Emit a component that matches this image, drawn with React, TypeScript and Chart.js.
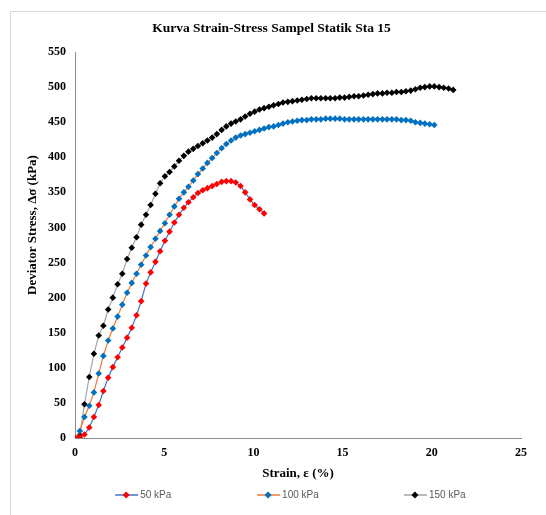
import React, { useEffect, useRef } from "react";
import { Chart, registerables } from "chart.js";

Chart.register(...registerables);

const TITLE = "Kurva Strain-Stress Sampel Statik Sta 15";
const X_TITLE = "Strain, ε (%)";
const Y_TITLE = "Deviator Stress, Δσ (kPa)";

const seriesLabels = ["50 kPa", "100 kPa", "150 kPa"];

// strain readings (%)
const strain = [
  0, 0.27, 0.53, 0.8, 1.06, 1.33, 1.59, 1.86, 2.12, 2.39, 2.65, 2.92, 3.18, 3.45, 3.71, 3.98,
  4.24, 4.51, 4.77, 5.04, 5.3, 5.57, 5.83, 6.1, 6.36, 6.63, 6.89, 7.16, 7.42, 7.69, 7.95, 8.22,
  8.48, 8.75, 9.01, 9.28, 9.54, 9.81, 10.07, 10.34, 10.6, 10.87, 11.13, 11.4, 11.66, 11.93,
  12.19, 12.46, 12.72, 12.99, 13.25, 13.52, 13.78, 14.05, 14.31, 14.58, 14.84, 15.11, 15.37,
  15.64, 15.9, 16.17, 16.43, 16.7, 16.96, 17.23, 17.49, 17.76, 18.02, 18.29, 18.55, 18.82,
  19.08, 19.35, 19.61, 19.88, 20.14, 20.41, 20.67, 20.94, 21.2,
];

// deviator stress (kPa)
const stress50 = [
  0, 1, 5, 15, 30, 47, 67, 86, 101, 115, 129, 143, 157, 175, 195, 220, 236, 251, 266, 281,
  294, 307, 318, 328, 336, 343, 349, 353, 356, 359, 362, 365, 366, 366, 364, 359, 350, 340,
  332, 326, 320,
];

const stress100 = [
  0, 10, 30, 46, 65, 92, 117, 139, 156, 173, 190, 207, 221, 234, 247, 260, 272, 284, 295, 306,
  318, 330, 341, 350, 358, 367, 376, 384, 392, 399, 406, 413, 419, 424, 428, 431, 433, 435,
  437, 439, 441, 443, 444, 446, 448, 450, 451, 452, 453, 453, 454, 454, 454, 455, 455, 455,
  455, 454, 454, 454, 454, 454, 454, 454, 454, 454, 454, 454, 454, 453, 453, 452, 450, 449,
  448, 447, 446,
];

const stress150 = [
  0, 4, 48, 87, 120, 146, 160, 183, 200, 219, 234, 255, 271, 286, 304, 318, 332, 348, 363, 373,
  379, 387, 395, 402, 408, 412, 416, 420, 424, 428, 433, 439, 444, 448, 451, 454, 458, 462,
  465, 468, 470, 472, 474, 476, 478, 479, 480, 481, 482, 483, 484, 484, 484, 484, 484, 484,
  485, 485, 486, 487, 487, 488, 489, 490, 491, 491, 492, 492, 493, 493, 494, 495, 497, 499,
  500, 501, 501, 500, 499, 498, 496,
];

const markerColors = ["#ff0000", "#0070c0", "#000000"];
const lineColors = ["#4472c4", "#ed7d31", "#a5a5a5"];

const serif = "'Liberation Serif', 'Times New Roman', serif";

function toPoints(ys: number[]) {
  return ys.map((y, i) => ({ x: strain[i], y }));
}

const yTitlePlugin = {
  id: "yTitle",
  afterDraw(chart: any) {
    const ctx = chart.ctx;
    const area = chart.chartArea;
    ctx.save();
    ctx.translate(33, (area.top + area.bottom) / 2 - 20);
    ctx.rotate(-Math.PI / 2);
    ctx.fillStyle = "#000000";
    ctx.font = `bold 13px ${serif}`;
    ctx.textAlign = "center";
    ctx.textBaseline = "middle";
    ctx.fillText(Y_TITLE, 0, 0);
    ctx.restore();
  },
};

const legendPlugin = {
  id: "customLegend",
  afterDraw(chart: any) {
    const ctx = chart.ctx;
    const y = 495;
    const centers = [0.231, 0.491, 0.76].map((f) => chart.width * f);
    ctx.save();
    chart.data.datasets.forEach((ds: any, i: number) => {
      const cx = centers[i];
      ctx.strokeStyle = ds.borderColor;
      ctx.lineWidth = 1.5;
      ctx.beginPath();
      ctx.moveTo(cx - 11, y);
      ctx.lineTo(cx + 12, y);
      ctx.stroke();
      ctx.fillStyle = ds.pointBackgroundColor;
      const r = 3.5;
      ctx.beginPath();
      ctx.moveTo(cx, y - r);
      ctx.lineTo(cx + r, y);
      ctx.lineTo(cx, y + r);
      ctx.lineTo(cx - r, y);
      ctx.closePath();
      ctx.fill();
      ctx.fillStyle = "#595959";
      ctx.font = "10px 'Liberation Sans', Arial, sans-serif";
      ctx.textAlign = "left";
      ctx.textBaseline = "middle";
      ctx.fillText(ds.label, cx + 14, y + 0.5);
    });
    ctx.restore();
  },
};

export default function App() {
  const canvasRef = useRef<HTMLCanvasElement | null>(null);

  useEffect(() => {
    document.body.style.margin = "0";
    const canvas = canvasRef.current;
    if (!canvas) return;
    const seriesData = [stress50, stress100, stress150];
    const chart = new Chart(canvas, {
      type: "scatter",
      data: {
        datasets: seriesData.map((ys, i) => ({
          label: seriesLabels[i],
          data: toPoints(ys),
          showLine: true,
          borderColor: lineColors[i],
          borderWidth: 1.2,
          pointStyle: "rectRot",
          pointRadius: 3.3,
          pointBorderWidth: 0,
          pointBackgroundColor: markerColors[i],
          pointBorderColor: markerColors[i],
          tension: 0,
        })),
      },
      options: {
        animation: false,
        responsive: false,
        maintainAspectRatio: false,
        layout: { padding: { left: 22, right: 25, top: 11, bottom: 30 } },
        plugins: {
          legend: { display: false },
          tooltip: { enabled: false },
          title: {
            display: true,
            text: TITLE,
            color: "#000000",
            font: { family: serif, size: 13.5, weight: "bold" },
            padding: { top: 9, bottom: 15.8 },
          },
        },
        scales: {
          x: {
            type: "linear",
            min: 0,
            max: 25,
            grid: { display: false, drawTicks: false },
            border: { display: true, color: "#8c8c8c", width: 1 },
            ticks: {
              stepSize: 5,
              padding: 8,
              color: "#000000",
              font: { family: serif, size: 12, weight: "bold" },
            },
            title: {
              display: true,
              text: X_TITLE,
              color: "#000000",
              font: { family: serif, size: 13, weight: "bold" },
              padding: { top: 2, bottom: 4 },
            },
            afterFit: (scale: any) => {
              scale.height = 47;
            },
          },
          y: {
            type: "linear",
            min: 0,
            max: 550,
            grid: { display: false, drawTicks: false },
            border: { display: true, color: "#8c8c8c", width: 1 },
            ticks: {
              stepSize: 50,
              padding: 9,
              color: "#000000",
              font: { family: serif, size: 12, weight: "bold" },
            },
            title: { display: false },
            afterFit: (scale: any) => {
              scale.width = 53;
            },
          },
        },
      },
      plugins: [legendPlugin, yTitlePlugin],
    });
    return () => chart.destroy();
  }, []);

  return (
    <div style={{ position: "relative", width: 546, height: 515, background: "#ffffff" }}>
      <div
        style={{
          position: "absolute",
          left: 10,
          top: 11,
          width: 540,
          height: 510,
          borderTop: "1px solid #d9d9d9",
          borderLeft: "1px solid #d9d9d9",
          pointerEvents: "none",
        }}
      />
      <canvas ref={canvasRef} width={546} height={515} style={{ position: "absolute", left: 0, top: 0 }} />
    </div>
  );
}
